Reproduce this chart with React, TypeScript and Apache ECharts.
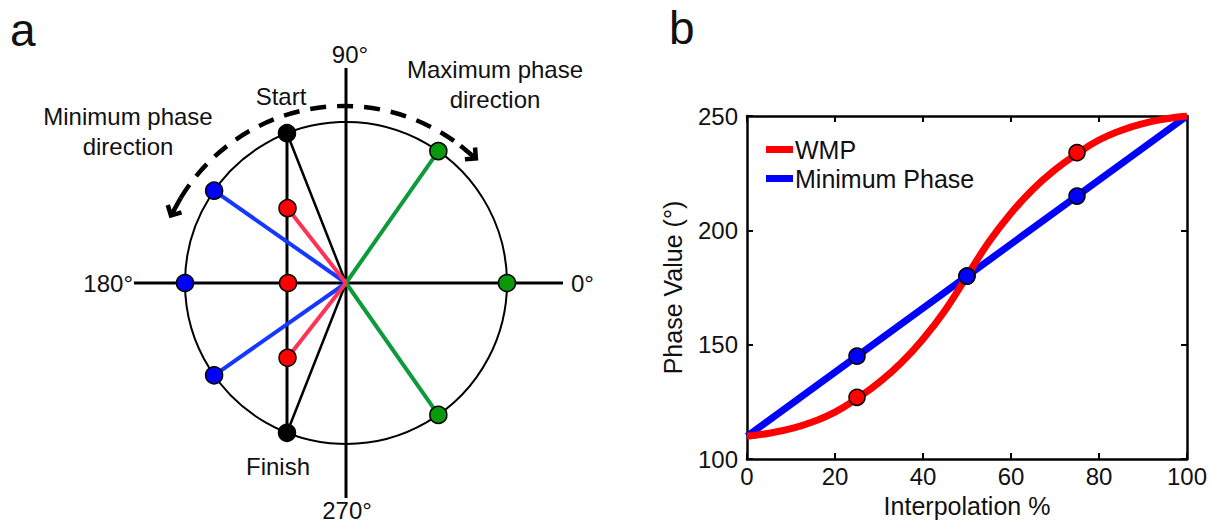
import * as echarts from "echarts";
import { useEffect, useRef } from "react";

const FONT = "'Liberation Sans', Arial, Helvetica, sans-serif";

// ---------- Panel a: phase diagram (polar: [radius, angle in degrees]) ----------
const startAngle = 111.5;
const finishAngle = 248.5;
const minPhaseAngles = [145, 180, 215];
const maxPhaseAngles = [55, 0, 305];
const wmpRadii = [0.59, 0.36, 0.59];
const wmpAngles = [128, 180, 232];
// how far each reference axis line reaches (in circle radii): 0°, 90°, 180°, 270°
const axisReach = [1.348, 1.335, 1.317, 1.335];
const outerReach = 1.4; // radius extent of the outer (axis-line) polar system

// ---------- Panel b: phase vs interpolation ----------
const interpPct = [0, 5, 10, 15, 20, 25, 30, 35, 40, 45, 50, 55, 60, 65, 70, 75, 80, 85, 90, 95, 100];
const wmpPhase = [110, 111.3, 113.3, 116.3, 120.5, 126.5, 133.5, 142, 152.5, 165, 180, 195, 207.5, 218, 226.5, 233.5, 239.5, 243.7, 246.7, 248.7, 250];
const minPhasePct = [0, 100];
const minPhaseValues = [110, 250];
const markerPct = [25, 50, 75];
const wmpMarkers = [127, 180, 234];
const minPhaseMarkers = [145, 180, 215];
const xTickInterval = 20;
const yTickInterval = 50;

const BLUE_LINE = "#1438ff";
const RED_LINE = "#ff3355";
const GREEN_LINE = "#0d9a3a";

export default function App() {
  const ref = useRef<HTMLDivElement>(null);

  useEffect(() => {
    if (!ref.current) return;
    const chart = echarts.init(ref.current, undefined, { renderer: "svg" });

    const onAxis = (a: number) => a % 90 === 0;
    const spoke = (angle: number, r: number, color: string, width: number) => ({
      type: "line",
      coordinateSystem: "polar",
      polarIndex: 0,
      data: [
        [0, angle],
        [r, angle],
      ],
      symbol: "none",
      silent: true,
      z: 3,
      lineStyle: { color, width },
    });
    const dots = (data: number[][], color: string) => ({
      type: "scatter",
      coordinateSystem: "polar",
      polarIndex: 0,
      data,
      symbol: "circle",
      symbolSize: 17,
      silent: true,
      z: 5,
      itemStyle: { color, borderColor: "#000", borderWidth: 1.5, opacity: 1 },
    });
    const axisLineSeries = (a1: number, r1: number, a2: number, r2: number) => ({
      type: "line",
      coordinateSystem: "polar",
      polarIndex: 1,
      data: [
        [r1, a1],
        [r2, a2],
      ],
      symbol: "none",
      silent: true,
      z: 2,
      lineStyle: { color: "#000", width: 3 },
    });

    const polarSeries: any[] = [
      axisLineSeries(180, axisReach[2], 0, axisReach[0]),
      axisLineSeries(90, axisReach[1], 270, axisReach[3]),
      {
        type: "line",
        coordinateSystem: "polar",
        polarIndex: 0,
        data: [
          [1, startAngle],
          [1, finishAngle],
        ],
        symbol: "none",
        silent: true,
        z: 2,
        lineStyle: { color: "#000", width: 3 },
      },
      spoke(startAngle, 1, "#000", 2.5),
      spoke(finishAngle, 1, "#000", 2.5),
      ...minPhaseAngles.filter((a) => !onAxis(a)).map((a) => spoke(a, 1, BLUE_LINE, 4)),
      ...maxPhaseAngles.filter((a) => !onAxis(a)).map((a) => spoke(a, 1, GREEN_LINE, 4)),
      ...wmpAngles
        .map((a, i) => [wmpRadii[i], a])
        .filter((p) => !onAxis(p[1]))
        .map((p) => spoke(p[1], p[0], RED_LINE, 4)),
      dots(minPhaseAngles.map((a) => [1, a]), "#0000ff"),
      dots(maxPhaseAngles.map((a) => [1, a]), "#0a990a"),
      dots(wmpAngles.map((a, i) => [wmpRadii[i], a]), "#ff0000"),
      dots(
        [
          [1, startAngle],
          [1, finishAngle],
        ],
        "#000000"
      ),
    ];

    const cartSeries: any[] = [
      {
        name: "Minimum Phase",
        type: "line",
        xAxisIndex: 0,
        yAxisIndex: 0,
        data: minPhasePct.map((x, i) => [x, minPhaseValues[i]]),
        symbol: "none",
        color: "#0000ff",
        lineStyle: { color: "#0000ff", width: 7 },
        z: 3,
      },
      {
        name: "WMP",
        type: "line",
        xAxisIndex: 0,
        yAxisIndex: 0,
        data: interpPct.map((x, i) => [x, wmpPhase[i]]),
        symbol: "none",
        smooth: 0.5,
        color: "#ff0000",
        lineStyle: { color: "#ff0000", width: 7 },
        z: 4,
      },
      {
        type: "scatter",
        xAxisIndex: 0,
        yAxisIndex: 0,
        data: markerPct.map((x, i) => [x, wmpMarkers[i]]),
        symbolSize: 16,
        itemStyle: { color: "#ff0000", borderColor: "#000", borderWidth: 1.5, opacity: 1 },
        z: 5,
      },
      {
        type: "scatter",
        xAxisIndex: 0,
        yAxisIndex: 0,
        data: markerPct.map((x, i) => [x, minPhaseMarkers[i]]),
        symbolSize: 16,
        itemStyle: { color: "#0000ff", borderColor: "#000", borderWidth: 1.5, opacity: 1 },
        z: 6,
      },
    ];

    // dashed direction arc with arrowheads (annotation)
    const arcC = [344, 297];
    const arcR = 191;
    const th1 = -151.8;
    const th2 = -49.4;
    const rad = (d: number) => (d * Math.PI) / 180;
    const pt = (th: number) => [arcC[0] + arcR * Math.cos(rad(th)), arcC[1] + arcR * Math.sin(rad(th))];
    const rot = (v: number[], a: number) => [
      v[0] * Math.cos(rad(a)) - v[1] * Math.sin(rad(a)),
      v[0] * Math.sin(rad(a)) + v[1] * Math.cos(rad(a)),
    ];
    const head = (th: number, dir: number[], shaftTh: number) => {
      const e = pt(th);
      const tip = [e[0] + 10 * dir[0], e[1] + 10 * dir[1]];
      const back = [-dir[0], -dir[1]];
      const l1 = rot(back, 45);
      const l2 = rot(back, -45);
      const s = pt(shaftTh);
      return [
        {
          type: "line",
          shape: { x1: s[0], y1: s[1], x2: tip[0], y2: tip[1] },
          style: { stroke: "#000", lineWidth: 4.5 },
        },
        {
          type: "polyline",
          shape: {
            points: [
              [tip[0] + 11 * l1[0], tip[1] + 11 * l1[1]],
              tip,
              [tip[0] + 11 * l2[0], tip[1] + 11 * l2[1]],
            ],
          },
          style: { stroke: "#000", lineWidth: 4.5, fill: null, lineJoin: "miter" },
        },
      ];
    };
    const dir2 = [-Math.sin(rad(th2)), Math.cos(rad(th2))];
    const dir1 = [Math.sin(rad(th1)), -Math.cos(rad(th1))];

    const txt = (text: string, x: number, y: number, align = "center", size = 24) => ({
      type: "text",
      x,
      y,
      style: {
        text,
        fill: "#111",
        font: `${size}px ${FONT}`,
        align,
        verticalAlign: "middle",
      },
      z: 10,
    });

    const hiddenAxis = {
      axisLine: { show: false },
      axisTick: { show: false },
      axisLabel: { show: false },
      splitLine: { show: false },
    };

    chart.setOption({
      animation: false,
      backgroundColor: "#ffffff",
      textStyle: { fontFamily: FONT },
      polar: [
        { center: [346, 283], radius: 161 },
        { center: [346, 283], radius: 161 * outerReach },
      ],
      angleAxis: [
        {
          polarIndex: 0,
          type: "value",
          min: 0,
          max: 360,
          startAngle: 0,
          clockwise: false,
          axisLine: { show: true, lineStyle: { color: "#000", width: 2 } },
          axisTick: { show: false },
          axisLabel: { show: false },
          splitLine: { show: false },
        },
        {
          polarIndex: 1,
          type: "value",
          min: 0,
          max: 360,
          startAngle: 0,
          clockwise: false,
          ...hiddenAxis,
        },
      ],
      radiusAxis: [
        { polarIndex: 0, type: "value", min: 0, max: 1, ...hiddenAxis },
        { polarIndex: 1, type: "value", min: 0, max: outerReach, ...hiddenAxis },
      ],
      grid: { left: 747, top: 116, width: 440, height: 351, containLabel: false },
      xAxis: [
        {
          type: "value",
          position: "bottom",
          min: 0,
          max: 100,
          interval: xTickInterval,
          name: "Interpolation %",
          nameLocation: "middle",
          nameGap: 30,
          nameTextStyle: { fontSize: 25, color: "#111", fontFamily: FONT },
          axisLine: { show: true, lineStyle: { color: "#000", width: 2.5 } },
          axisTick: { show: true, inside: true, length: 6, lineStyle: { color: "#000", width: 2 } },
          axisLabel: { fontSize: 24, color: "#111", margin: 5, fontFamily: FONT },
          splitLine: { show: false },
        },
        {
          type: "value",
          position: "top",
          min: 0,
          max: 100,
          interval: xTickInterval,
          axisLine: { show: true, onZero: false, lineStyle: { color: "#000", width: 2.5 } },
          axisTick: { show: true, inside: true, length: 6, lineStyle: { color: "#000", width: 2 } },
          axisLabel: { show: false },
          splitLine: { show: false },
        },
      ],
      yAxis: [
        {
          type: "value",
          position: "left",
          min: 100,
          max: 250,
          interval: yTickInterval,
          name: "Phase Value (°)",
          nameLocation: "middle",
          nameGap: 62,
          nameTextStyle: { fontSize: 25, color: "#111", fontFamily: FONT },
          axisLine: { show: true, onZero: false, lineStyle: { color: "#000", width: 2.5 } },
          axisTick: { show: true, inside: true, length: 6, lineStyle: { color: "#000", width: 2 } },
          axisLabel: { fontSize: 24, color: "#111", margin: 9, fontFamily: FONT },
          splitLine: { show: false },
        },
        {
          type: "value",
          position: "right",
          min: 100,
          max: 250,
          interval: yTickInterval,
          axisLine: { show: true, onZero: false, lineStyle: { color: "#000", width: 2.5 } },
          axisTick: { show: true, inside: true, length: 6, lineStyle: { color: "#000", width: 2 } },
          axisLabel: { show: false },
          splitLine: { show: false },
        },
      ],
      legend: {
        data: ["WMP", "Minimum Phase"],
        orient: "vertical",
        left: 766,
        top: 137,
        icon: "rect",
        itemWidth: 27,
        itemHeight: 7,
        itemGap: 4,
        padding: 0,
        textStyle: { fontSize: 25, color: "#111", fontFamily: FONT, padding: [0, 0, 0, -3] },
        selectedMode: false,
      },
      graphic: [
        txt("a", 10, 30, "left", 46),
        txt("b", 669, 28, "left", 46),
        txt("90°", 350, 54),
        txt("0°", 571, 283, "left"),
        txt("180°", 133, 283, "right"),
        txt("270°", 347, 510),
        txt("Start", 281, 96),
        txt("Finish", 278, 466),
        txt("Minimum phase", 128, 116),
        txt("direction", 128, 146),
        txt("Maximum phase", 495, 69),
        txt("direction", 495, 99),
        {
          type: "arc",
          shape: {
            cx: arcC[0],
            cy: arcC[1],
            r: arcR,
            startAngle: rad(th1 + 3),
            endAngle: rad(th2 - 3),
            clockwise: true,
          },
          style: { stroke: "#000", lineWidth: 4.5, lineDash: [16, 11], fill: null },
          z: 9,
        },
        ...head(th2, dir2, th2 - 3),
        ...head(th1, dir1, th1 + 3),
      ],
      series: [...polarSeries, ...cartSeries],
    });

    return () => chart.dispose();
  }, []);

  return (
    <div
      ref={ref}
      style={{ position: "fixed", left: 0, top: 0, width: 1211, height: 523, background: "#fff" }}
    />
  );
}
